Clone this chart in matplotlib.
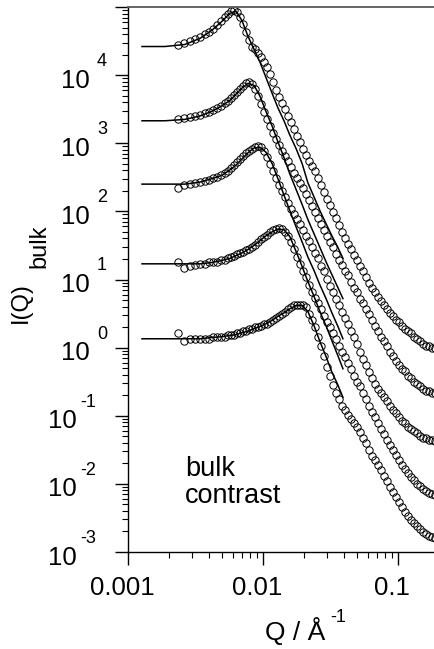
import numpy as np
import matplotlib.pyplot as plt
from matplotlib.ticker import LogLocator, NullFormatter
from matplotlib.transforms import offset_copy, ScaledTranslation

plt.rcParams['font.family'] = ['Liberation Sans', 'DejaVu Sans']

# ---------------------------------------------------------------------------
# Measured points: Q in 1/Å (shared grid), values are log10 I(Q).
# Curves 1..5 go from the bottom sample to the top one (each offset x10).
# ---------------------------------------------------------------------------
Q_DATA = [0.00235, 0.00260, 0.00288, 0.00314, 0.00342, 0.00372, 0.00398, 0.00426, 0.00456, 0.00489,
          0.00523, 0.00550, 0.00579, 0.00610, 0.00642, 0.00675, 0.00711, 0.00748, 0.00788, 0.00829,
          0.00873, 0.00918, 0.00967, 0.0102, 0.0107, 0.0113, 0.0119, 0.0125, 0.0131, 0.0138,
          0.0146, 0.0153, 0.0161, 0.0170, 0.0179, 0.0188, 0.0198, 0.0208, 0.0219, 0.0231,
          0.0243, 0.0256, 0.0269, 0.0283, 0.0298, 0.0314, 0.0330, 0.0347, 0.0366, 0.0385,
          0.0405, 0.0426, 0.0449, 0.0472, 0.0497, 0.0523, 0.0550, 0.0579, 0.0610, 0.0642,
          0.0675, 0.0711, 0.0748, 0.0788, 0.0829, 0.0872, 0.0918, 0.0967, 0.102, 0.107,
          0.113, 0.119, 0.125, 0.131, 0.138, 0.146, 0.153, 0.161, 0.170, 0.179,
          0.188]

LOGI_1 = [0.21, 0.10, 0.12, 0.12, 0.13, 0.13, 0.13, 0.15, 0.15, 0.16,
          0.16, 0.18, 0.19, 0.19, 0.21, 0.22, 0.24, 0.25, 0.27, 0.28,
          0.30, 0.31, 0.32, 0.34, 0.35, 0.38, 0.41, 0.44, 0.47, 0.50,
          0.53, 0.56, 0.59, 0.62, 0.63, 0.63, 0.62, 0.59, 0.50, 0.40,
          0.30, 0.16, 0.02, -0.13, -0.28, -0.42, -0.55, -0.67, -0.76, -0.85,
          -0.92, -0.99, -1.05, -1.11, -1.17, -1.24, -1.32, -1.40, -1.51, -1.59,
          -1.65, -1.73, -1.80, -1.89, -1.96, -2.05, -2.12, -2.19, -2.27, -2.34,
          -2.42, -2.47, -2.53, -2.58, -2.62, -2.66, -2.71, -2.74, -2.77, -2.78,
          -2.80]

LOGI_2 = [1.25, 1.17, 1.20, 1.22, 1.23, 1.23, 1.25, 1.25, 1.26, 1.28,
          1.29, 1.31, 1.33, 1.35, 1.38, 1.39, 1.41, 1.44, 1.45, 1.48,
          1.51, 1.55, 1.60, 1.63, 1.66, 1.69, 1.72, 1.74, 1.76, 1.74,
          1.70, 1.64, 1.55, 1.45, 1.33, 1.23, 1.13, 1.03, 0.92, 0.82,
          0.73, 0.65, 0.56, 0.47, 0.38, 0.30, 0.21, 0.12, 0.03, -0.06,
          -0.14, -0.23, -0.32, -0.41, -0.50, -0.57, -0.67, -0.76, -0.85, -0.94,
          -1.02, -1.11, -1.20, -1.27, -1.35, -1.43, -1.51, -1.58, -1.65, -1.73,
          -1.78, -1.84, -1.90, -1.95, -2.00, -2.03, -2.08, -2.11, -2.14, -2.15,
          -2.17]

LOGI_3 = [2.34, 2.39, 2.40, 2.42, 2.43, 2.45, 2.46, 2.49, 2.51, 2.53,
          2.56, 2.59, 2.64, 2.68, 2.73, 2.77, 2.81, 2.86, 2.89, 2.92,
          2.94, 2.96, 2.94, 2.89, 2.80, 2.70, 2.59, 2.49, 2.39, 2.30,
          2.21, 2.12, 2.04, 1.96, 1.89, 1.82, 1.73, 1.64, 1.57, 1.48,
          1.39, 1.31, 1.20, 1.12, 1.01, 0.91, 0.81, 0.72, 0.62, 0.53,
          0.43, 0.34, 0.25, 0.16, 0.05, -0.06, -0.16, -0.26, -0.36, -0.45,
          -0.54, -0.61, -0.67, -0.73, -0.79, -0.85, -0.91, -0.96, -1.02, -1.07,
          -1.11, -1.16, -1.20, -1.23, -1.26, -1.29, -1.32, -1.33, -1.35, -1.36,
          -1.37]

LOGI_4 = [3.35, 3.37, 3.38, 3.40, 3.41, 3.44, 3.46, 3.49, 3.52, 3.55,
          3.59, 3.62, 3.66, 3.71, 3.75, 3.79, 3.84, 3.88, 3.90, 3.87,
          3.79, 3.69, 3.57, 3.46, 3.35, 3.25, 3.15, 3.06, 2.97, 2.89,
          2.81, 2.74, 2.65, 2.56, 2.49, 2.42, 2.34, 2.26, 2.17, 2.08,
          1.99, 1.91, 1.82, 1.73, 1.64, 1.55, 1.47, 1.38, 1.29, 1.22,
          1.13, 1.06, 0.97, 0.88, 0.81, 0.72, 0.65, 0.56, 0.49, 0.40,
          0.32, 0.24, 0.16, 0.09, 0.02, -0.06, -0.13, -0.19, -0.25, -0.31,
          -0.35, -0.41, -0.45, -0.50, -0.54, -0.57, -0.60, -0.63, -0.64, -0.66,
          -0.67]

LOGI_5 = [4.44, 4.47, 4.50, 4.53, 4.56, 4.60, 4.63, 4.67, 4.73, 4.79,
          4.85, 4.89, 4.94, 4.95, 4.92, 4.86, 4.75, 4.63, 4.51, 4.42,
          4.38, 4.32, 4.26, 4.19, 4.12, 4.01, 3.90, 3.78, 3.68, 3.59,
          3.50, 3.40, 3.31, 3.21, 3.11, 3.02, 2.92, 2.83, 2.74, 2.67,
          2.59, 2.49, 2.39, 2.29, 2.18, 2.10, 1.99, 1.91, 1.80, 1.70,
          1.61, 1.52, 1.45, 1.36, 1.29, 1.20, 1.12, 1.04, 0.95, 0.87,
          0.81, 0.75, 0.69, 0.63, 0.57, 0.51, 0.47, 0.41, 0.37, 0.32,
          0.28, 0.24, 0.21, 0.16, 0.13, 0.09, 0.06, 0.03, 0.02, 0.00,
          0.00]

# Model fits (solid lines), again log10 I(Q) on a shared Q grid
Q_FIT = [0.00127, 0.00188, 0.00264, 0.00342, 0.00419, 0.00497, 0.00570, 0.00631, 0.00699, 0.00774,
         0.00858, 0.00950, 0.0105, 0.0117, 0.0129, 0.0143, 0.0158, 0.0176, 0.0195, 0.0215,
         0.0239, 0.0264, 0.0293, 0.0324, 0.0359, 0.0391]

FIT_1 = [0.13, 0.13, 0.13, 0.13, 0.15, 0.16, 0.18, 0.19, 0.22, 0.24,
         0.28, 0.31, 0.35, 0.40, 0.46, 0.51, 0.57, 0.62, 0.62, 0.53,
         0.32, 0.09, -0.13, -0.36, -0.55, -0.73]
FIT_2 = [1.23, 1.23, 1.23, 1.23, 1.25, 1.28, 1.31, 1.35, 1.39, 1.44,
         1.50, 1.57, 1.64, 1.70, 1.74, 1.73, 1.63, 1.41, 1.19, 0.97,
         0.75, 0.53, 0.32, 0.10, -0.12, -0.31]
FIT_3 = [2.40, 2.40, 2.40, 2.43, 2.48, 2.53, 2.61, 2.68, 2.77, 2.86,
         2.93, 2.94, 2.87, 2.70, 2.48, 2.24, 2.01, 1.77, 1.55, 1.33,
         1.13, 0.92, 0.72, 0.51, 0.31, 0.13]
FIT_4 = [3.33, 3.33, 3.35, 3.40, 3.47, 3.55, 3.63, 3.72, 3.81, 3.88,
         3.85, 3.69, 3.47, 3.25, 3.02, 2.79, 2.55, 2.32, 2.10, 1.88,
         1.67, 1.47, 1.26, 1.07, 0.88, 0.72]
FIT_5 = [4.42, 4.42, 4.45, 4.54, 4.66, 4.79, 4.91, 4.94, 4.80, 4.57,
         4.38, 4.19, 3.97, 3.73, 3.52, 3.33, 3.12, 2.92, 2.70, 2.42,
         2.21, 2.01, 1.82, 1.64, 1.47, 1.31]

DECADES = [-3, -2, -1, 0, 1, 2, 3, 4]
X_TICKS = [0.001, 0.01, 0.1]
X_TICK_LABELS = ['0.001', '0.01', '0.1']


fig = plt.figure(figsize=(4.35, 6.49), dpi=100)
ax = fig.add_axes([128 / 435, 97 / 649, 307 / 435, 545 / 649])
ax.set_xscale('log')
ax.set_yscale('log')

q_fit = np.array(Q_FIT)
for fit in (FIT_1, FIT_2, FIT_3, FIT_4, FIT_5):
    ax.plot(q_fit, 10 ** np.array(fit), color='black', lw=1.1, zorder=3)

q = np.array(Q_DATA)
for logi in (LOGI_1, LOGI_2, LOGI_3, LOGI_4, LOGI_5):
    ax.plot(q, 10 ** np.array(logi), 'o', ms=5.3, mfc='none', mec='black',
            mew=0.7, zorder=2)

ax.set_xlim(0.001, 0.188)
ax.set_ylim(1e-3, 1e5)

# spines: no right one (cut off), grey top one
ax.spines['right'].set_visible(False)
ax.spines['top'].set_color('0.35')
ax.spines['top'].set_linewidth(1.3)
ax.spines['left'].set_linewidth(1.0)
ax.spines['bottom'].set_linewidth(1.0)

ax.yaxis.set_major_locator(LogLocator(base=10, numticks=20))
ax.yaxis.set_minor_locator(LogLocator(base=10, subs=np.arange(2, 10), numticks=20))
ax.yaxis.set_minor_formatter(NullFormatter())
ax.set_xticks(X_TICKS, labels=X_TICK_LABELS)
ax.xaxis.set_minor_locator(LogLocator(base=10, subs=np.arange(2, 10), numticks=20))
ax.xaxis.set_minor_formatter(NullFormatter())

ax.tick_params(which='major', direction='out', length=9.2, width=1.0,
               top=False, right=False, labelsize=18.5, pad=7.9)
ax.tick_params(which='minor', direction='out', length=4.5, width=0.8,
               top=False, right=False)
ax.tick_params(axis='y', labelleft=False)

# x tick labels sit a little left of their ticks in the original
shift = ScaledTranslation(-0.06, 0, fig.dpi_scale_trans)
for lab in ax.get_xticklabels():
    lab.set_transform(lab.get_transform() + shift)

# y tick labels as "10" with a raised exponent, drawn by hand
ytrans = ax.get_yaxis_transform()
for k in DECADES:
    base_dx = -27.4 if k >= 0 else -36.7
    exp_dx = -22.3 if k >= 0 else -34.6
    t_base = offset_copy(ytrans, fig=fig, x=base_dx, y=-4.0, units='points')
    t_exp = offset_copy(ytrans, fig=fig, x=exp_dx, y=6.5, units='points')
    ax.text(0, 10.0 ** k, '10', transform=t_base, ha='right', va='center',
            fontsize=18.5)
    ax.text(0, 10.0 ** k, str(k), transform=t_exp, ha='left', va='baseline',
            fontsize=13)

# axis titles
fig.text(265 / 435, 1 - 640 / 649, 'Q / Å', ha='left', va='baseline', fontsize=19)
fig.text(330 / 435, 1 - 622 / 649, '-1', ha='left', va='baseline', fontsize=13)
fig.text(10 / 435, 1 - 323 / 649, 'I(Q)', rotation=90, ha='left', va='bottom',
         fontsize=17)
fig.text(28 / 435, 1 - 268 / 649, 'bulk', rotation=90, ha='left', va='bottom',
         fontsize=17)

# baseline here is that of the last line ("contrast")
fig.text(185 / 435, 1 - 503 / 649, 'bulk\ncontrast', ha='left', va='baseline',
         fontsize=19.5, linespacing=1.05)

fig.savefig('out.png', dpi=100)
